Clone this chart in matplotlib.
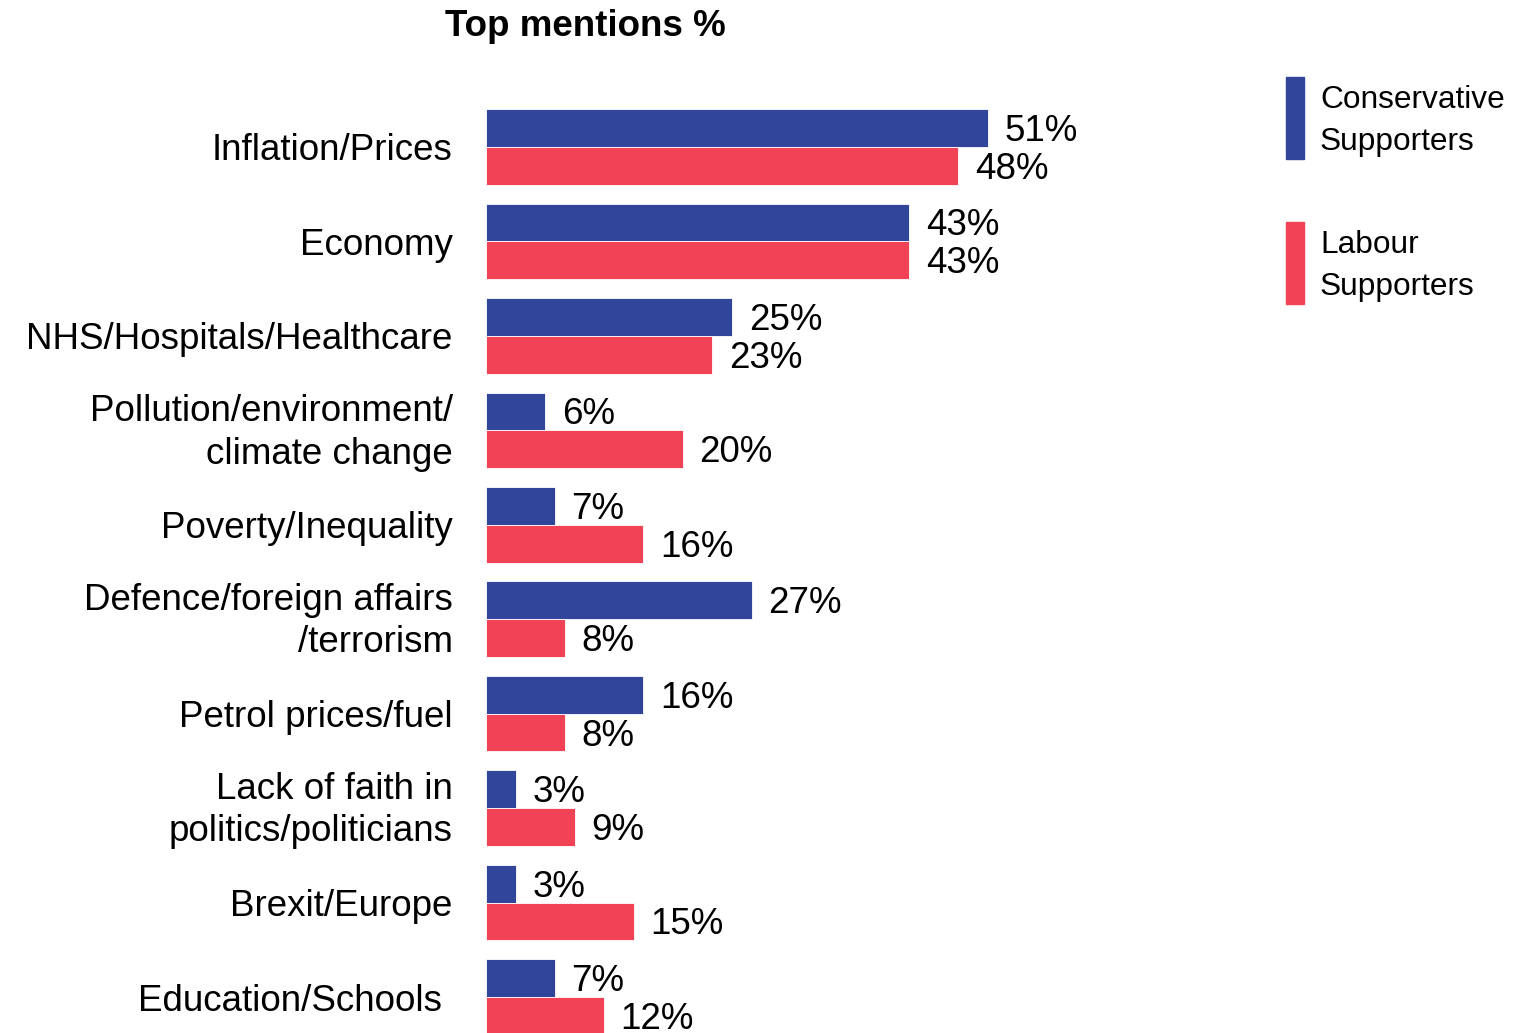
import matplotlib.pyplot as plt
import matplotlib.transforms as mtransforms
from matplotlib.patches import Rectangle

# data
categories = ['Inflation/Prices', 'Economy', 'NHS/Hospitals/Healthcare',
              'Pollution/environment/\nclimate change', 'Poverty/Inequality',
              'Defence/foreign affairs\n/terrorism', 'Petrol prices/fuel',
              'Lack of faith in\npolitics/politicians', 'Brexit/Europe',
              'Education/Schools ']
conservative = [51, 43, 25, 6, 7, 27, 16, 3, 3, 7]
labour = [48, 43, 23, 20, 16, 8, 8, 9, 15, 12]

blue = '#31469B'
red = '#F24256'
W, H = 1531, 1033

plt.rcParams['font.family'] = ['Liberation Sans', 'DejaVu Sans']

fig = plt.figure(figsize=(W / 100, H / 100), dpi=100)
# axes from x=486 to 1286 px, y=100 to 1033 px
ax = fig.add_axes([486 / W, 0, 800 / W, 933 / H])
pxper = 9.84
ax.set_xlim(0, 800 / pxper)
ax.set_ylim(9.381, -0.497)

ypos = list(range(len(categories)))
yb = [y - 0.2 for y in ypos]
yr = [y + 0.2 for y in ypos]
ax.barh(yb, conservative, height=0.4, color=blue, edgecolor='white', linewidth=0.6)
ax.barh(yr, labour, height=0.4, color=red, edgecolor='white', linewidth=0.6)

for y, v in zip(yb, conservative):
    ax.annotate('%d%%' % v, (v, y), xytext=(12, -2.5), textcoords='offset points',
                va='center', ha='left', fontsize=26.5)
for y, v in zip(yr, labour):
    ax.annotate('%d%%' % v, (v, y), xytext=(12, -2.5), textcoords='offset points',
                va='center', ha='left', fontsize=26.5)

ax.set_yticks(ypos)
ax.set_yticklabels(categories, fontsize=26.5, linespacing=1.27)
ax.tick_params(axis='y', length=0, pad=24)
ax.set_xticks([])
for s in ax.spines.values():
    s.set_visible(False)

# two-line labels sit a little higher in the original
up = mtransforms.ScaledTranslation(0, 5 / 100, fig.dpi_scale_trans)
for lab in ax.get_yticklabels():
    if '\n' in lab.get_text():
        lab.set_transform(lab.get_transform() + up)

fig.text(585 / W, 1 - 27 / H, 'Top mentions %', ha='center', va='center',
         fontsize=26.5, fontweight='bold')

# legend
fig.patches.append(Rectangle((1286 / W, 1 - 159 / H), 18 / W, 82 / H,
                             transform=fig.transFigure, color=blue))
fig.patches.append(Rectangle((1286 / W, 1 - 304 / H), 18 / W, 82 / H,
                             transform=fig.transFigure, color=red))
fig.text(1320 / W, 1 - 121 / H, 'Conservative\nSupporters', ha='left', va='center',
         fontsize=22.8, linespacing=1.52)
fig.text(1320 / W, 1 - 266 / H, 'Labour\nSupporters', ha='left', va='center',
         fontsize=22.8, linespacing=1.52)

fig.savefig('out.png', dpi=100)
